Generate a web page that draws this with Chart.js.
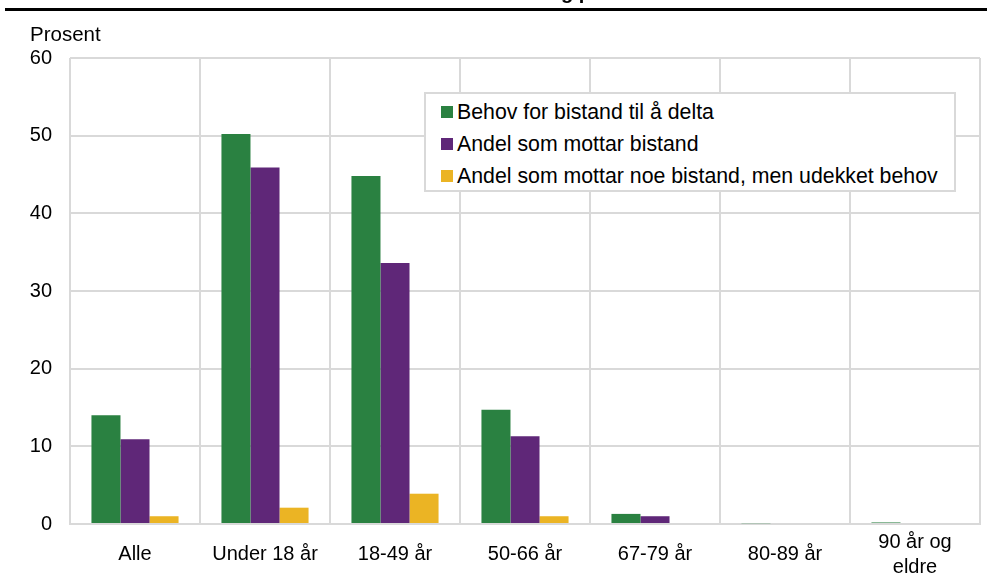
<!DOCTYPE html>
<html lang="no">
<head>
<meta charset="utf-8">
<script src="https://cdn.jsdelivr.net/npm/chart.js@4.4.1/dist/chart.umd.min.js"></script>
<style>
  html, body { margin: 0; padding: 0; background: #fff; }
  #wrap { position: relative; width: 987px; height: 588px; overflow: hidden; font-family: "Liberation Sans", Arial, sans-serif; }
  #topline { position: absolute; left: 5px; top: 8px; width: 982px; height: 3px; background: #000; }
  #title { position: absolute; left: 561px; top: -19px; font-size: 20px; font-weight: bold; color: #000; white-space: nowrap; }
  #unit { position: absolute; left: 30px; top: 22px; font-size: 20.5px; color: #000; }
  #legend { position: absolute; left: 424px; top: 92px; width: 532px; height: 100px; background: #fff; border: 2px solid #d9d9d9; box-sizing: border-box; padding: 2px 0 0 15px; }
  .item { display: flex; align-items: center; height: 32px; font-size: 21.3px; color: #000; }
  .sw { width: 12px; height: 12px; margin-right: 4px; }
  canvas { position: absolute; left: 0; top: 0; }
</style>
</head>
<body>
<div id="wrap">
  <canvas id="c" width="987" height="588"></canvas>
  <div id="topline"></div>
  <div id="title">g p</div>
  <div id="unit">Prosent</div>
  <div id="legend"></div>
</div>
<script>
// Age groups along the x axis
const categories = ["Alle", "Under 18 år", "18-49 år", "50-66 år", "67-79 år", "80-89 år", ["90 år og", "eldre"]];

// Series names
const seriesNames = [
  "Behov for bistand til å delta",
  "Andel som mottar bistand",
  "Andel som mottar noe bistand, men udekket behov"
];

// Values in percent
const behov = [14.0, 50.2, 44.8, 14.7, 1.3, 0.1, 0.2];
const mottar = [10.9, 45.9, 33.6, 11.3, 1.0, 0.0, 0.0];
const udekket = [1.0, 2.1, 3.9, 1.0, 0.0, 0.0, 0.0];

const yTicks = [0, 10, 20, 30, 40, 50, 60];

const colors = ["#2a8141", "#5f2778", "#ebb424"];

const datasets = [behov, mottar, udekket].map((d, i) => ({
  label: seriesNames[i],
  data: d,
  backgroundColor: colors[i],
  borderWidth: 0,
  categoryPercentage: 0.67,
  barPercentage: 1.0
}));

// Legend box drawn as HTML inside the plot
const legend = document.getElementById("legend");
seriesNames.forEach((name, i) => {
  const row = document.createElement("div");
  row.className = "item";
  const sw = document.createElement("span");
  sw.className = "sw";
  sw.style.background = colors[i];
  const tx = document.createElement("span");
  tx.textContent = name;
  row.appendChild(sw);
  row.appendChild(tx);
  legend.appendChild(row);
});

const font = { family: "'Liberation Sans', Arial, sans-serif", size: 20, lineHeight: 1.25 };

new Chart(document.getElementById("c"), {
  type: "bar",
  data: { labels: categories, datasets },
  options: {
    responsive: false,
    animation: false,
    layout: { padding: { top: 58, right: 7, left: 0, bottom: 0 } },
    plugins: { legend: { display: false }, tooltip: { enabled: false } },
    scales: {
      x: {
        grid: { color: "#d9d9d9", lineWidth: 2, drawTicks: false, offset: true },
        border: { color: "#d9d9d9", width: 2 },
        ticks: { color: "#000", font, padding: 18, maxRotation: 0, autoSkip: false, crossAlign: "center" },
        afterFit: s => { s.height = 64; }
      },
      y: {
        min: 0, max: 60,
        afterBuildTicks: s => { s.ticks = yTicks.map(v => ({ value: v })); },
        grid: { color: "#d9d9d9", lineWidth: 2, drawTicks: false },
        border: { display: false },
        ticks: { color: "#000", font, padding: 18 },
        afterFit: s => { s.width = 70; }
      }
    }
  }
});
</script>
</body>
</html>
